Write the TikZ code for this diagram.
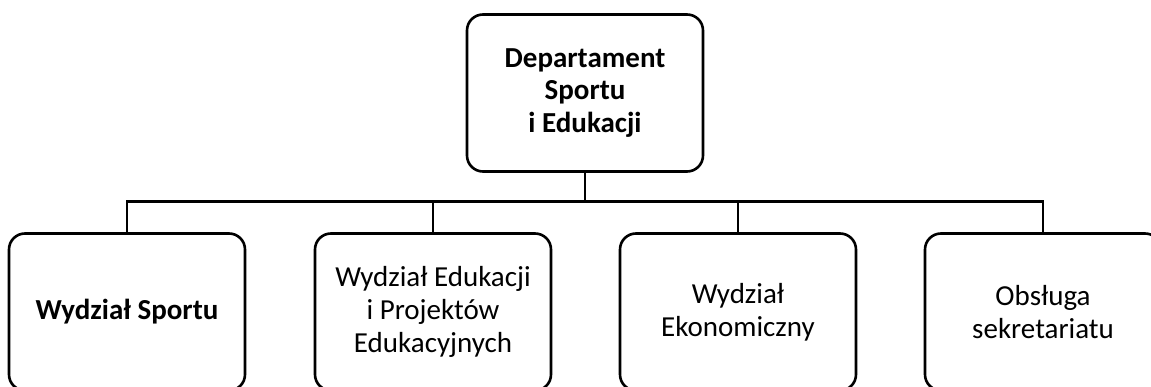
\documentclass[tikz,border=0pt]{standalone}
\usepackage{fontspec}
\setmainfont{Carlito}
\begin{document}
\begin{tikzpicture}[x=1pt,y=-1pt,
  box/.style={draw,line width=2.6pt,rounded corners=16pt,minimum width=236pt,minimum height=157pt,align=center,inner sep=0pt,font=\fontsize{29}{32.8}\selectfont},
  conn/.style={line width=2.6pt}]
\useasboundingbox (0,0) rectangle (1151,387);
\clip (0,0) rectangle (1151,387);
\node[box,font=\bfseries\fontsize{29}{32.8}\selectfont] (top) at (585,93) {Departament\\Sportu\\i Edukacji};
\node[box,font=\bfseries\fontsize{29}{32.8}\selectfont] (c1) at (127,312) {Wydział Sportu};
\node[box] (c2) at (433,312) {Wydział Edukacji\\i Projektów\\Edukacyjnych};
\node[box] (c3) at (738,312) {Wydział\\Ekonomiczny};
\node[box] (c4) at (1043,312) {Obsługa\\sekretariatu};
\coordinate (bus) at (585,201.5);
\draw[conn] (top.south) -- (top.south |- bus);
\draw[conn] (c1.north) -- (c1.north |- bus) -- (c4.north |- bus) -- (c4.north);
\draw[conn] (c2.north) -- (c2.north |- bus);
\draw[conn] (c3.north) -- (c3.north |- bus);
\end{tikzpicture}
\end{document}
